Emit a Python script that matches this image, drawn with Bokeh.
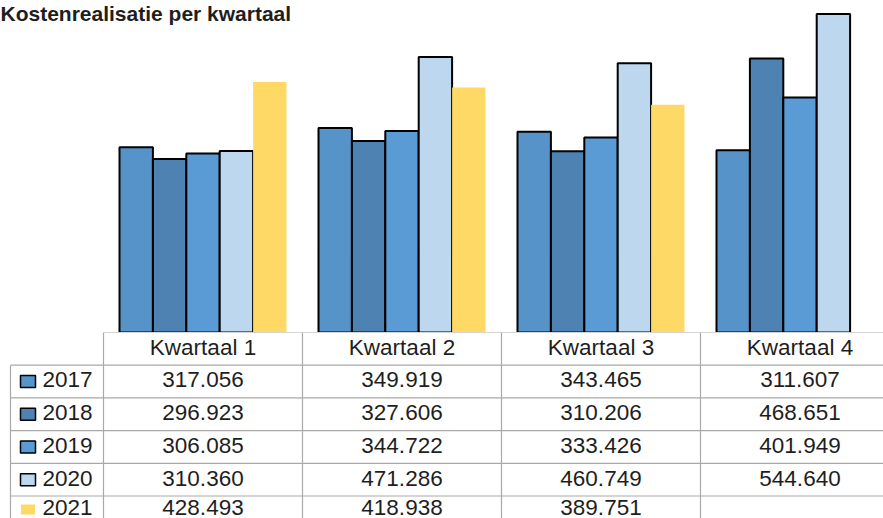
from bokeh.plotting import figure
from bokeh.models import ColumnDataSource, Range1d, Label
from bokeh.layouts import column
from bokeh.core.properties import value
from bokeh.embed import file_html
from bokeh.resources import INLINE

# ---------------- data ----------------
title = "Kostenrealisatie per kwartaal"
quarters = ["Kwartaal 1", "Kwartaal 2", "Kwartaal 3", "Kwartaal 4"]
years = ["2017", "2018", "2019", "2020", "2021"]
v2017 = [317.056, 349.919, 343.465, 311.607]
v2018 = [296.923, 327.606, 310.206, 468.651]
v2019 = [306.085, 344.722, 333.426, 401.949]
v2020 = [310.360, 471.286, 460.749, 544.640]
v2021 = [428.493, 418.938, 389.751, None]
series = [v2017, v2018, v2019, v2020, v2021]
colors = ["#5693c9", "#4d82b2", "#5b9bd5", "#bdd7ee", "#ffd966"]
outlined = [True, True, True, True, False]

# ---------------- layout constants ----------------
W = 883
H_BARS = 332
H_TABLE = 186
COL_PX = 199.0          # width of one quarter column in px
COL0_PX = 103.0         # left edge of first quarter column (px)
ROW_PX = 32.7
PX_PER_UNIT = 0.5846
FONT = "Liberation Sans"
FS = "22.5px"
TXT = "#1e1e1e"
GRID = "#a9a9a9"

x_start = -COL0_PX / COL_PX
x_end = (W - COL0_PX) / COL_PX
bar_w = 33.4 / COL_PX
n_ser = len(series)

# ---------------- bar chart ----------------
p = figure(width=W, height=H_BARS, output_backend="svg", toolbar_location=None,
           x_axis_type=None, y_axis_type=None, min_border=0,
           x_range=Range1d(x_start, x_end), y_range=Range1d(0, H_BARS / PX_PER_UNIT))
p.grid.visible = False
p.outline_line_color = None
p.background_fill_color = "white"
p.border_fill_color = "white"

for j, (vals, col, ol) in enumerate(zip(series, colors, outlined)):
    xs, tops = [], []
    for q, v in enumerate(vals):
        if v is None:
            continue
        xs.append(q + 0.5 + (j - (n_ser - 1) / 2) * bar_w)
        tops.append(v)
    src = ColumnDataSource(dict(x=xs, top=tops))
    if ol:
        p.vbar(x="x", top="top", bottom=0, width=bar_w, source=src,
               fill_color=col, line_color="black", line_width=2)
    else:
        p.vbar(x="x", top="top", bottom=0, width=bar_w, source=src,
               fill_color=col, line_color=None)

p.add_layout(Label(x=0, y=H_BARS - 1, x_units="screen", y_units="screen",
                   text=title, text_font=FONT, text_font_size="21px",
                   text_font_style="bold", text_color=TXT,
                   text_baseline="top"))

# ---------------- data table ----------------
n_rows = len(years) + 1
row_span = H_TABLE / ROW_PX
t = figure(width=W, height=H_TABLE, output_backend="svg", toolbar_location=None,
           x_axis_type=None, y_axis_type=None, min_border=0,
           x_range=Range1d(x_start, x_end), y_range=Range1d(row_span, 0))
t.grid.visible = False
t.outline_line_color = None
t.background_fill_color = "white"
t.border_fill_color = "white"

x_left = (10 - COL0_PX) / COL_PX
nq = len(quarters)
# horizontal lines
hx0 = [0] + [x_left] * len(years)
hy = list(range(n_rows))
t.segment(x0=hx0, y0=hy, x1=[nq + 1] * len(hy), y1=hy, line_color=GRID, line_width=1.2)
# vertical lines
vx = list(range(nq)) + [x_left]
vy0 = [0] * nq + [1]
t.segment(x0=vx, y0=vy0, x1=vx, y1=[n_rows + 1] * len(vx), line_color=GRID, line_width=1.2)

# row text centres: keep the text of the last (partially visible) row inside the canvas
max_center = row_span - 11.5 / ROW_PX
def row_center(r):
    return min(r + 0.45, max_center)

# header
t.text(x=[q + 0.5 for q in range(nq)], y=[row_center(0)] * nq, text=quarters,
       text_font=value(FONT), text_font_size=FS, text_color=TXT,
       text_align="center", text_baseline="middle")

# values
vx_, vy_, vt_ = [], [], []
for j, vals in enumerate(series):
    for q, v in enumerate(vals):
        if v is None:
            continue
        vx_.append(q + 0.5)
        vy_.append(row_center(j + 1))
        vt_.append(f"{v:.3f}")
t.text(x=vx_, y=vy_, text=vt_, text_font=value(FONT), text_font_size=FS,
       text_color=TXT, text_align="center", text_baseline="middle")

# row labels and legend keys
key_x = (27.5 - COL0_PX) / COL_PX
lab_x = (42.0 - COL0_PX) / COL_PX
t.text(x=[lab_x] * len(years), y=[row_center(j + 1) for j in range(len(years))], text=years,
       text_font=value(FONT), text_font_size=FS, text_color=TXT,
       text_align="left", text_baseline="middle")
key_max = row_span - 9.0 / ROW_PX
for j, (col, ol) in enumerate(zip(colors, outlined)):
    ky = min(j + 1.5, key_max)
    if ol:
        t.rect(x=[key_x], y=[ky], width=15, height=12, width_units="screen",
               height_units="screen", fill_color=col, line_color="black", line_width=1.5)
    else:
        t.rect(x=[key_x], y=[ky], width=14, height=10, width_units="screen",
               height_units="screen", fill_color=col, line_color=None)

layout = column(p, t, spacing=0)
open("out.html", "w").write(file_html(layout, INLINE))
